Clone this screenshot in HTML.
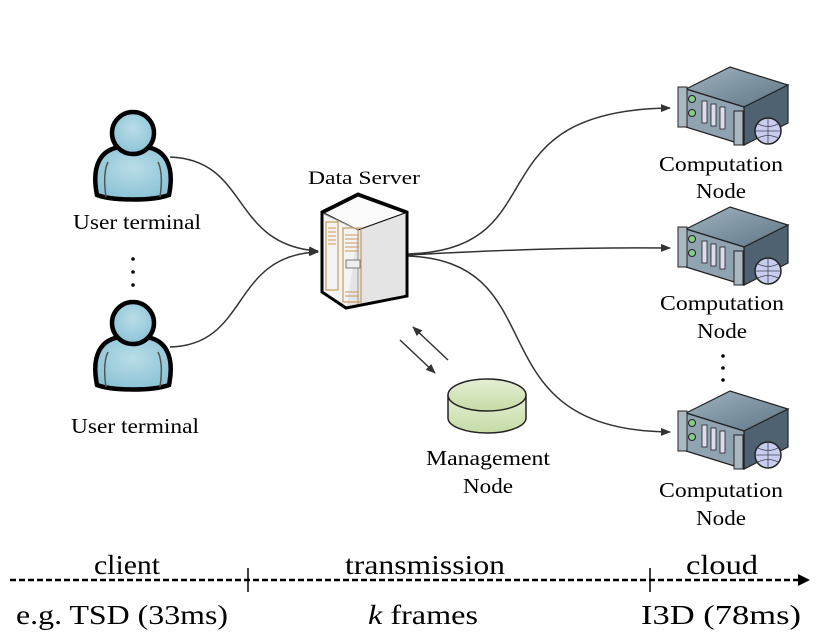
<!DOCTYPE html>
<html><head><meta charset="utf-8"><style>
html,body{margin:0;padding:0;background:#fff}
svg{display:block}
text{font-family:"Liberation Serif","Times New Roman",serif;fill:#000}
</style></head><body>
<svg width="831" height="633" viewBox="0 0 831 633" xmlns="http://www.w3.org/2000/svg">
<defs>
<marker id="ah" markerWidth="10" markerHeight="8" refX="9" refY="4" orient="auto" markerUnits="userSpaceOnUse">
<path d="M0,0 L10,4 L0,8 z" fill="#333"/></marker>
<radialGradient id="blue" cx="0.5" cy="0.4" r="0.6"><stop offset="0" stop-color="#b9dde8"/><stop offset="1" stop-color="#8cc3d6"/></radialGradient>
<linearGradient id="grn" x1="0" y1="0" x2="0" y2="1"><stop offset="0" stop-color="#e4efd3"/><stop offset="1" stop-color="#c6dba6"/></linearGradient>
<linearGradient id="top" x1="0" y1="0" x2="1" y2="1"><stop offset="0" stop-color="#9fb2bf"/><stop offset="1" stop-color="#5f7686"/></linearGradient>
<g id="user">
<path d="M-36,60 C-42,30 -32,14 -12,12 L12,12 C32,14 42,30 36,60 C20,66 -20,66 -36,60 z" fill="url(#blue)" stroke="#000" stroke-width="4.5"/>
<path d="M-25,27 C-29,35 -29,48 -27,62 M25,27 C29,35 29,48 27,62" stroke="#555" stroke-width="1.5" fill="none"/>
<circle cx="0" cy="-2" r="21" fill="url(#blue)" stroke="#000" stroke-width="4.5"/>
</g>
<g id="comp">
<path d="M16,22 L60,0 L118,18 L74,40 z" fill="url(#top)" stroke="#222" stroke-width="1.2"/>
<path d="M74,40 L118,18 L118,56 L74,78 z" fill="#4f6272" stroke="#222" stroke-width="1.2"/>
<path d="M16,22 L74,40 L74,78 L16,60 z" fill="#8fa3b1" stroke="#222" stroke-width="1.2"/>
<rect x="8" y="20" width="9" height="40" fill="#aab8c2" stroke="#222"/>
<rect x="64" y="44" width="9" height="34" fill="#aab8c2" stroke="#222"/>
<circle cx="22" cy="32" r="3.5" fill="#8c8" stroke="#222"/>
<circle cx="22" cy="46" r="3.5" fill="#8c8" stroke="#222"/>
<rect x="32" y="34" width="5" height="22" fill="#dde" stroke="#222" stroke-width="0.8"/>
<rect x="41" y="37" width="5" height="22" fill="#dde" stroke="#222" stroke-width="0.8"/>
<rect x="50" y="40" width="5" height="22" fill="#dde" stroke="#222" stroke-width="0.8"/>
<circle cx="98" cy="64" r="13" fill="#c8cdf0" stroke="#222" stroke-width="1.5"/>
<path d="M85,64 H111 M98,51 V77 M88,57 Q98,62 108,57 M88,71 Q98,66 108,71" stroke="#445" fill="none" stroke-width="0.8"/>
</g>
</defs>

<!-- users -->
<use href="#user" x="133" y="135"/>
<use href="#user" x="133" y="325"/>
<text x="137" y="229" font-size="21" text-anchor="middle" textLength="128" lengthAdjust="spacingAndGlyphs">User terminal</text>
<text x="135" y="433" font-size="21" text-anchor="middle" textLength="128" lengthAdjust="spacingAndGlyphs">User terminal</text>
<circle cx="133" cy="259" r="1.8"/><circle cx="133" cy="272" r="1.8"/><circle cx="133" cy="285" r="1.8"/>

<!-- connectors -->
<g stroke="#333" stroke-width="1.5" fill="none">
<path d="M170,157 C250,160 230,245 318,251" marker-end="url(#ah)"/>
<path d="M170,347 C250,345 230,255 318,252" marker-end="url(#ah)"/>
<path d="M408,254 C560,250 470,110 670,108" marker-end="url(#ah)"/>
<path d="M408,255 C500,250 580,247 670,248" marker-end="url(#ah)"/>
<path d="M408,256 C560,262 470,430 670,432" marker-end="url(#ah)"/>
<path d="M448,360 L413,327" marker-end="url(#ah)"/>
<path d="M400,340 L435,373" marker-end="url(#ah)"/>
</g>

<!-- data server -->
<text x="364" y="184" font-size="19" text-anchor="middle" textLength="112" lengthAdjust="spacingAndGlyphs">Data Server</text>
<path d="M322,212 L358,194 L407,212 L407,296 L346,308 L322,292 z" fill="#f4f4f4" stroke="#000" stroke-width="3"/>
<path d="M358,230 L405,213 L405,295 L347,306 z" fill="#e4e4e4"/>
<path d="M324,213 L358,196 L405,213 L358,230 z" fill="#fafafa" stroke="#000" stroke-width="1"/>
<path d="M324,214 L358,230 L358,304" stroke="#999" fill="none"/>
<rect x="326" y="222" width="12" height="68" fill="none" stroke="#c89a5c" stroke-width="1.2"/>
<rect x="343" y="228" width="18" height="74" fill="none" stroke="#c89a5c" stroke-width="1.2"/>
<g stroke="#c89a5c" stroke-width="1"><path d="M328,228h8M328,232h8M328,236h8M328,240h8M328,244h8M345,235h14M345,239h14M345,243h14M345,247h14M345,251h14M345,292h14M345,296h14"/></g>
<rect x="346" y="260" width="14" height="8" fill="#eee" stroke="#777"/>

<!-- management node -->
<path d="M448,395 V418 A39,15 0 0 0 526,418 V395" fill="url(#grn)" stroke="#222" stroke-width="1.5"/>
<ellipse cx="487" cy="395" rx="39" ry="16" fill="url(#grn)" stroke="#222" stroke-width="1.5"/>
<text x="488" y="465" font-size="21" text-anchor="middle" textLength="124" lengthAdjust="spacingAndGlyphs">Management</text>
<text x="488" y="493" font-size="21" text-anchor="middle" textLength="50" lengthAdjust="spacingAndGlyphs">Node</text>

<!-- computation nodes -->
<use href="#comp" x="670" y="67"/>
<use href="#comp" x="670" y="207"/>
<use href="#comp" x="670" y="391"/>
<g font-size="21" text-anchor="middle">
<text x="721" y="171" textLength="124" lengthAdjust="spacingAndGlyphs">Computation</text><text x="721" y="198" textLength="50" lengthAdjust="spacingAndGlyphs">Node</text>
<text x="722" y="310" textLength="124" lengthAdjust="spacingAndGlyphs">Computation</text><text x="722" y="338" textLength="50" lengthAdjust="spacingAndGlyphs">Node</text>
<text x="721" y="497" textLength="124" lengthAdjust="spacingAndGlyphs">Computation</text><text x="721" y="525" textLength="50" lengthAdjust="spacingAndGlyphs">Node</text>
</g>
<circle cx="723" cy="356" r="1.8"/><circle cx="723" cy="368" r="1.8"/><circle cx="723" cy="380" r="1.8"/>

<!-- axis -->
<line x1="10" y1="580" x2="800" y2="580" stroke="#000" stroke-width="2.5" stroke-dasharray="6,3"/>
<path d="M798,574 L810,580 L798,586 z"/>
<line x1="248" y1="568" x2="248" y2="592" stroke="#000" stroke-width="1.5"/>
<line x1="650" y1="568" x2="650" y2="592" stroke="#000" stroke-width="1.5"/>
<g font-size="27" text-anchor="middle">
<text x="127" y="574" textLength="66" lengthAdjust="spacingAndGlyphs">client</text>
<text x="425" y="574" textLength="160" lengthAdjust="spacingAndGlyphs">transmission</text>
<text x="722" y="574" textLength="72" lengthAdjust="spacingAndGlyphs">cloud</text>
<text x="122" y="624" textLength="212" lengthAdjust="spacingAndGlyphs">e.g. TSD (33ms)</text>
<text x="423" y="624" textLength="110" lengthAdjust="spacingAndGlyphs"><tspan font-style="italic">k</tspan> frames</text>
<text x="721" y="624" textLength="160" lengthAdjust="spacingAndGlyphs">I3D (78ms)</text>
</g>
</svg>
</body></html>
